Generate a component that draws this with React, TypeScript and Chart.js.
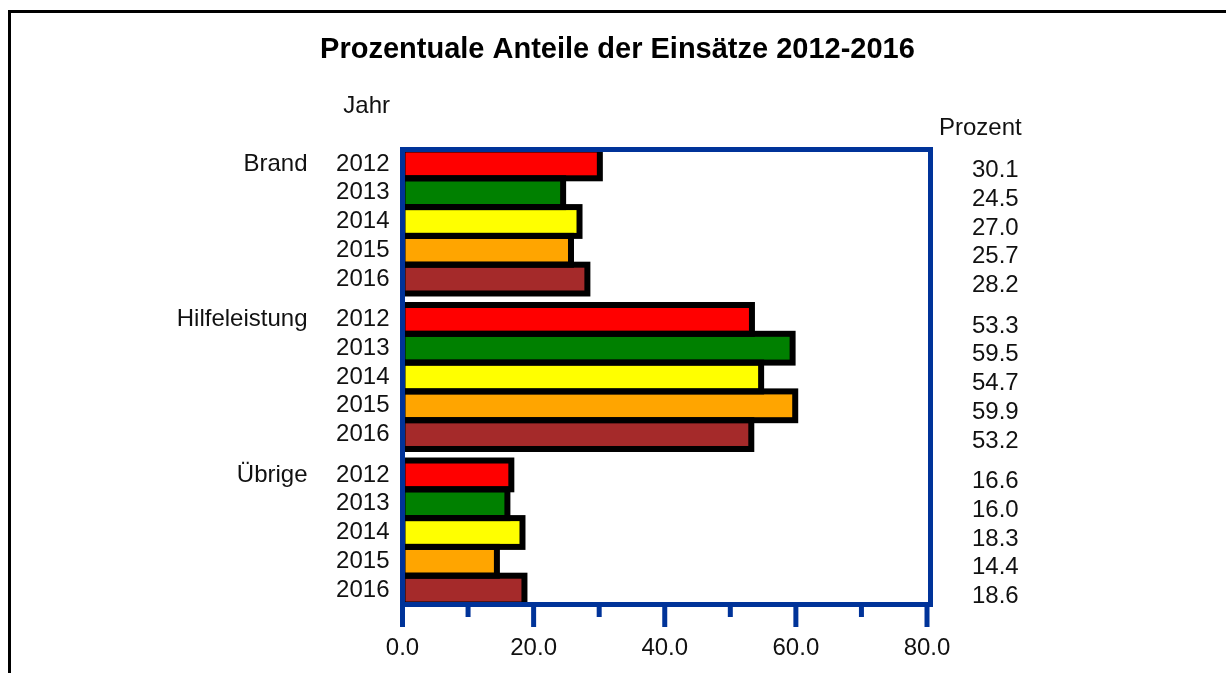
import React, { useEffect, useRef } from 'react';
import { Chart, registerables } from 'chart.js';

Chart.register(...registerables);

// ---- data ----
const categories = ['Brand', 'Hilfeleistung', 'Übrige'];
const years = ['2012', '2013', '2014', '2015', '2016'];
const brandPct = [30.1, 24.5, 27.0, 25.7, 28.2];
const hilfeleistungPct = [53.3, 59.5, 54.7, 59.9, 53.2];
const uebrigePct = [16.6, 16.0, 18.3, 14.4, 18.6];
const xMajorTicks = [0, 20, 40, 60, 80];
const xMinorTicks = [10, 30, 50, 70];

const yearColors = ['#ff0000', '#008000', '#ffff00', '#ffa500', '#a52a2a'];
const groupValues = [brandPct, hilfeleistungPct, uebrigePct];

const GROUP_GAP = 0.4;
const rowPos = (g: number, i: number) => g * (years.length + GROUP_GAP) + i + 0.5;
const Y_MAX = categories.length * years.length + (categories.length - 1) * GROUP_GAP;

const rows: { pos: number; year: string; value: number }[] = [];
categories.forEach((_, g) => {
  years.forEach((yr, i) => {
    rows.push({ pos: rowPos(g, i), year: yr, value: groupValues[g][i] });
  });
});

const FONT = '"Liberation Sans", Arial, Helvetica, sans-serif';
const BLUE = '#003399';
const TEXT = '#111111';
const LABEL_FONT = { family: FONT, size: 24 };

const decorPlugin = {
  id: 'decor',
  afterDatasetsDraw(chart: any) {
    const { ctx, chartArea: ca, scales } = chart;
    const xs = scales.x;
    // black outlines around bars
    ctx.save();
    ctx.beginPath();
    ctx.rect(ca.left, ca.top, ca.right - ca.left, ca.bottom - ca.top);
    ctx.clip();
    ctx.lineWidth = 6;
    ctx.strokeStyle = '#000000';
    chart.data.datasets.forEach((_: any, di: number) => {
      const meta = chart.getDatasetMeta(di);
      meta.data.forEach((el: any) => {
        const p = el.getProps(['x', 'y', 'base', 'height'], true);
        const left = Math.min(p.x, p.base);
        const w = Math.abs(p.x - p.base);
        ctx.strokeRect(left, p.y - p.height / 2, w, p.height);
      });
    });
    ctx.restore();

    // blue frame
    ctx.save();
    ctx.strokeStyle = BLUE;
    ctx.lineWidth = 5;
    const frameRight = ca.right + 3.5;
    ctx.strokeRect(ca.left, ca.top, frameRight - ca.left, ca.bottom - ca.top);
    // ticks
    ctx.lineCap = 'butt';
    const drawTick = (v: number, len: number) => {
      const px = xs.getPixelForValue(v);
      ctx.beginPath();
      ctx.moveTo(px, ca.bottom);
      ctx.lineTo(px, ca.bottom + len);
      ctx.stroke();
    };
    xMajorTicks.forEach((v) => drawTick(v, 22.5));
    xMinorTicks.forEach((v) => drawTick(v, 12.5));
    ctx.restore();

    // texts
    ctx.save();
    ctx.fillStyle = '#000000';
    ctx.textBaseline = 'alphabetic';
    ctx.font = `bold 29px ${FONT}`;
    ctx.textAlign = 'center';
    ctx.fillText('Prozentuale Anteile der Einsätze 2012-2016', chart.width / 2 + 4.5, 58);
    ctx.fillStyle = TEXT;
    ctx.font = `24px ${FONT}`;
    ctx.textAlign = 'right';
    ctx.fillText('Jahr', ca.left - 12.5, ca.top - 37);
    ctx.textAlign = 'left';
    ctx.fillText('Prozent', ca.right + 12, ca.top - 14.5);
    ctx.restore();
  },
};

export default function App() {
  const canvasRef = useRef<HTMLCanvasElement | null>(null);

  useEffect(() => {
    if (!canvasRef.current) return;
    const datasets = years.map((yr, i) => ({
      label: yr,
      data: groupValues.map((vals, g) => ({ x: vals[i], y: rowPos(g, i) })),
      backgroundColor: yearColors[i],
      borderWidth: 0,
      barPercentage: 1,
      categoryPercentage: 1,
      grouped: false,
      xAxisID: 'x',
      yAxisID: 'y',
    }));

    const hiddenGrid = { display: false, drawTicks: false, offset: false };
    const chart = new Chart(canvasRef.current, {
      type: 'bar',
      data: { datasets } as any,
      plugins: [decorPlugin],
      options: {
        animation: false,
        responsive: false,
        devicePixelRatio: 1,
        indexAxis: 'y',
        layout: { padding: { top: 149.5, left: 0, right: 0, bottom: 0 } },
        plugins: {
          legend: { display: false },
          tooltip: { enabled: false },
          title: { display: false },
        },
        scales: {
          x: {
            type: 'linear',
            position: 'bottom',
            min: 0,
            max: 80,
            offset: false,
            afterBuildTicks: (s: any) => {
              s.ticks = xMajorTicks.map((v) => ({ value: v }));
            },
            ticks: {
              callback: (v: any) => Number(v).toFixed(1),
              padding: 29,
              font: LABEL_FONT,
              color: TEXT,
              maxRotation: 0,
              autoSkip: false,
            },
            grid: hiddenGrid,
            border: { display: false },
            afterFit: (s: any) => {
              s.height = 68.5;
            },
          },
          y: {
            type: 'linear',
            position: 'left',
            min: 0,
            max: Y_MAX,
            reverse: true,
            offset: false,
            weight: 1,
            afterBuildTicks: (s: any) => {
              s.ticks = rows.map((r) => ({ value: r.pos }));
            },
            ticks: {
              callback: (_v: any, idx: number) => rows[idx] ? rows[idx].year : '',
              padding: 13,
              font: LABEL_FONT,
              color: TEXT,
              autoSkip: false,
            },
            grid: hiddenGrid,
            border: { display: false },
            afterFit: (s: any) => {
              s.width = 80;
            },
          },
          yCat: {
            type: 'linear',
            axis: 'y',
            position: 'left',
            min: 0,
            max: Y_MAX,
            reverse: true,
            offset: false,
            weight: 2,
            afterBuildTicks: (s: any) => {
              s.ticks = categories.map((_, g) => ({ value: rowPos(g, 0) }));
            },
            ticks: {
              callback: (_v: any, idx: number) => categories[idx] || '',
              padding: 15,
              font: LABEL_FONT,
              color: TEXT,
              autoSkip: false,
            },
            grid: hiddenGrid,
            border: { display: false },
            afterFit: (s: any) => {
              s.width = 322.5;
            },
          },
          yVal: {
            type: 'linear',
            axis: 'y',
            position: 'right',
            min: 0,
            max: Y_MAX,
            reverse: true,
            offset: false,
            afterBuildTicks: (s: any) => {
              s.ticks = rows.map((r) => ({ value: r.pos }));
            },
            ticks: {
              callback: (_v: any, idx: number) => rows[idx] ? rows[idx].value.toFixed(1) : '',
              padding: 45,
              labelOffset: 6.5,
              font: LABEL_FONT,
              color: TEXT,
              autoSkip: false,
            },
            grid: hiddenGrid,
            border: { display: false },
            afterFit: (s: any) => {
              s.width = 299;
            },
          },
        },
      } as any,
    });
    return () => chart.destroy();
  }, []);

  return (
    <>
      <div
        style={{
          position: 'fixed',
          left: 8,
          top: 10,
          width: 1218,
          height: 663,
          borderLeft: '3px solid #000',
          borderTop: '3px solid #000',
          boxSizing: 'border-box',
          pointerEvents: 'none',
        }}
      />
      <canvas
        ref={canvasRef}
        width={1226}
        height={673}
        style={{ position: 'fixed', left: 0, top: 0, display: 'block', width: 1226, height: 673 }}
      />
    </>
  );
}
